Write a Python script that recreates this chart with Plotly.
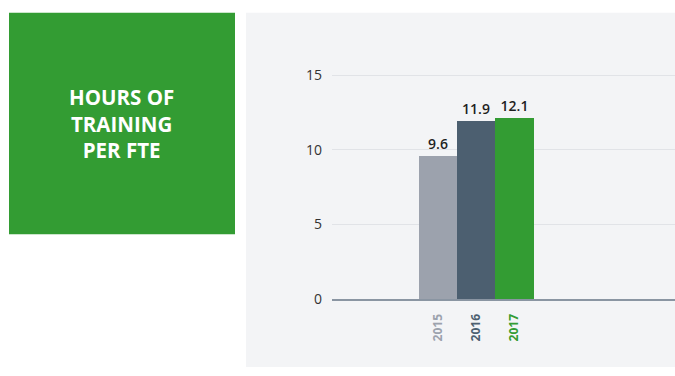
import plotly.graph_objects as go

# Hours of training per FTE by year
years = ["2015", "2016", "2017"]
hours = [9.6, 11.9, 12.1]
bar_colors = ["#9ca2ad", "#4c5f70", "#339c33"]
y_ticks = [0, 5, 10, 15]

W, H = 675, 376
PANEL = "#f3f4f6"
GREEN = "#339c33"

# pixel geometry of the chart area
plot_left, plot_bottom, plot_top = 332, 306.5, 0
px_per_unit = (306.5 - 77) / 15.0
y_max = (plot_bottom - plot_top) / px_per_unit

bar_px = 38.3
x_lo = -(438 - plot_left) / bar_px
x_hi = x_lo + (W - plot_left) / bar_px

fig = go.Figure()
fig.add_trace(go.Bar(
    x=years,
    y=hours,
    marker=dict(color=bar_colors, line=dict(width=0)),
    text=[f"{v:.1f}" for v in hours],
    textposition="outside",
    textfont=dict(family="Open Sans", size=14, color="#1f1f1f", weight=600),
    cliponaxis=False,
    width=1.0,
    hoverinfo="skip",
))

ticktext = [f"<span style='color:{c}'><b>{y}</b></span>" for y, c in zip(years, bar_colors)]

fig.update_layout(
    width=W, height=H,
    margin=dict(l=0, r=0, t=0, b=0),
    paper_bgcolor="white",
    plot_bgcolor="rgba(0,0,0,0)",
    showlegend=False,
    bargap=0,
    xaxis=dict(
        domain=[plot_left / W, 1],
        range=[x_lo, x_hi],
        tickmode="array", tickvals=years, ticktext=ticktext,
        tickangle=-90,
        tickfont=dict(family="Open Sans", size=12),
        ticks="", ticklabelstandoff=8,
        showgrid=False, zeroline=False,
        showline=True, linecolor="#8a95a2", linewidth=2,
        fixedrange=True,
    ),
    yaxis=dict(
        domain=[(H - plot_bottom) / H, 1],
        range=[0, y_max],
        tickmode="array", tickvals=y_ticks,
        tickfont=dict(family="Open Sans", size=14, color="#333333"),
        ticks="", ticklabelstandoff=9,
        showgrid=True, gridcolor="#e1e3e7", gridwidth=1,
        zeroline=False, showline=False,
        fixedrange=True,
    ),
    shapes=[
        dict(type="rect", xref="paper", yref="paper", layer="below",
             x0=246 / W, x1=1, y0=0, y1=1 - 13 / H,
             fillcolor=PANEL, line=dict(width=0)),
        dict(type="rect", xref="paper", yref="paper", layer="below",
             x0=9 / W, x1=235 / W, y0=1 - 240 / H, y1=1 - 13 / H,
             fillcolor=GREEN, line=dict(width=0)),
    ],
    annotations=[
        dict(text="<b>HOURS OF<br>TRAINING<br>PER FTE</b>",
             xref="paper", yref="paper",
             x=122 / W, y=1 - 127 / H, xanchor="center", yanchor="middle",
             showarrow=False, align="center",
             font=dict(family="Open Sans", size=20.5, color="white")),
    ],
)

fig.write_html("out.html")
